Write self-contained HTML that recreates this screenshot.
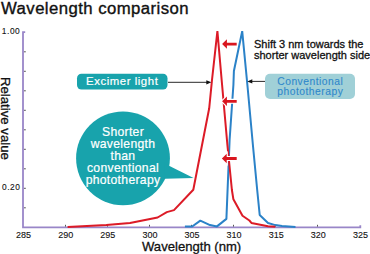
<!DOCTYPE html>
<html><head><meta charset="utf-8">
<style>
html,body{margin:0;padding:0;background:#fff;}
body{width:370px;height:254px;position:relative;overflow:hidden;font-family:"Liberation Sans",sans-serif;color:#111;}
.t{position:absolute;white-space:nowrap;line-height:1;-webkit-text-stroke-width:0.3px;}
svg{position:absolute;left:0;top:0;}
</style></head><body>
<svg width="370" height="254" viewBox="0 0 370 254">
  <!-- axes -->
  <g stroke="#9986c8" stroke-width="1.8" fill="none">
    <path d="M25.2 32.2 H23 V227.4 H360.3 V225.2"/>
  </g>
  <g stroke="#444" stroke-width="0.9">
    <path d="M24 207.8h1.8M24 188.3h1.8M24 168.8h1.8M24 149.3h1.8M24 129.8h1.8M24 110.3h1.8M24 90.8h1.8M24 71.3h1.8M24 51.8h1.8"/>
    <path d="M65.5 226.6v-1.8M107.5 226.6v-1.8M149.5 226.6v-1.8M191.5 226.6v-1.8M233.5 226.6v-1.8M275.5 226.6v-1.8M317.5 226.6v-1.8"/>
  </g>
  <!-- blue curve -->
  <polyline fill="none" stroke="#2b82c8" stroke-width="2" stroke-linejoin="bevel"
    points="184.9,226.5 192.2,226.5 200.3,220.6 210,225.1 217,226.4 226.4,218.9 229.6,140 233.4,85 233.9,71 242.2,31.2 247.4,85 252.9,145 257.2,190 259.7,215 268,223 275.3,225.1 282,226 295.5,226.9"/>
  <!-- red curve -->
  <polyline fill="none" stroke="#dc1b27" stroke-width="2" stroke-linejoin="bevel"
    points="67.6,226.9 106.3,225.1 130,223.1 157.6,217.5 166.8,212.1 174,210.1 193.3,189.8 209.2,108.3 212,80 217.4,31.2 222.1,85 227.4,145 231.9,190 233.4,199.3 242.5,215.7 249.4,220.5 251.4,222.9 268,226.2 275.3,226.8"/>
  <!-- red arrows -->
  <g fill="#d9161f" stroke="#fff" stroke-width="2.2" stroke-linejoin="miter" paint-order="stroke fill">
    <path d="M222.1 44.1 L226.9 39.35 L226.9 42.70 L236.7 42.70 L236.7 45.50 L226.9 45.50 L226.9 48.85 Z"/>
    <path d="M222.1 101.3 L226.9 96.55 L226.9 99.90 L236.7 99.90 L236.7 102.70 L226.9 102.70 L226.9 106.05 Z"/>
    <path d="M221.9 158.5 L226.7 153.75 L226.7 157.10 L236.7 157.10 L236.7 159.90 L226.7 159.90 L226.7 163.25 Z"/>
  </g>
  <!-- black arrows -->
  <g stroke="#111" stroke-width="0.9" fill="none">
    <path d="M168 82.3 H208"/>
    <path d="M265 81.4 H251"/>
  </g>
  <g fill="#111">
    <path d="M211.3 82.3 L206.3 80.2 L206.3 84.4 Z"/>
    <path d="M247.3 81.4 L252.3 79.3 L252.3 83.5 Z"/>
  </g>
  <!-- excimer box -->
  <rect x="77" y="73.7" width="90.5" height="15.8" rx="4.5" fill="#18a3ac"/>
  <!-- bubble -->
  <circle cx="123" cy="158.3" r="46.9" fill="#18a3ac"/>
  <path d="M164 163.5 L170 166.2 L193.6 178.1 L165 178.7 Z" fill="#18a3ac"/>
  <!-- conventional box -->
  <rect x="265" y="73.8" width="90" height="25.2" rx="5" fill="#a0d0d7"/>
</svg>
<div class="t" style="left:1px;top:1.2px;font-size:16px;letter-spacing:0.42px;-webkit-text-stroke:0.35px #111;transform:scaleX(1.045);transform-origin:0 0;">Wavelength comparison</div>
<div class="t" style="left:1.8px;top:27.3px;font-size:8.4px;letter-spacing:0.55px;-webkit-text-stroke-width:0.1px;">1.00</div>
<div class="t" style="left:2px;top:183.2px;font-size:8.4px;letter-spacing:0.55px;-webkit-text-stroke-width:0.1px;">0.20</div>
<div class="t" style="left:23.6px;top:230.7px;font-size:9px;-webkit-text-stroke-width:0.1px;transform:translateX(-50%);">285</div>
<div class="t" style="left:65.7px;top:230.7px;font-size:9px;-webkit-text-stroke-width:0.1px;transform:translateX(-50%);">290</div>
<div class="t" style="left:107.8px;top:230.7px;font-size:9px;-webkit-text-stroke-width:0.1px;transform:translateX(-50%);">295</div>
<div class="t" style="left:149.9px;top:230.7px;font-size:9px;-webkit-text-stroke-width:0.1px;transform:translateX(-50%);">300</div>
<div class="t" style="left:192.0px;top:230.7px;font-size:9px;-webkit-text-stroke-width:0.1px;transform:translateX(-50%);">305</div>
<div class="t" style="left:234.1px;top:230.7px;font-size:9px;-webkit-text-stroke-width:0.1px;transform:translateX(-50%);">310</div>
<div class="t" style="left:276.2px;top:230.7px;font-size:9px;-webkit-text-stroke-width:0.1px;transform:translateX(-50%);">315</div>
<div class="t" style="left:318.3px;top:230.7px;font-size:9px;-webkit-text-stroke-width:0.1px;transform:translateX(-50%);">320</div>
<div class="t" style="left:360.4px;top:230.7px;font-size:9px;-webkit-text-stroke-width:0.1px;transform:translateX(-50%);">325</div>
<div class="t" style="left:0;top:0;font-size:13.2px;transform-origin:0 0;transform:translate(12px,77px) rotate(90deg);">Relative value</div>
<div class="t" style="left:142px;top:240.3px;font-size:13.1px;">Wavelength (nm)</div>
<div class="t" style="left:254px;top:38.6px;font-size:11px;line-height:11px;">Shift 3 nm towards the<br>shorter wavelength side</div>
<div class="t" style="left:86px;top:75.9px;font-size:11.4px;letter-spacing:0.55px;-webkit-text-stroke:0.2px #fff;color:#fff;">Excimer light</div>
<div class="t" style="left:123px;top:127.3px;font-size:12.2px;letter-spacing:0.3px;-webkit-text-stroke:0.2px #fff;color:#fff;line-height:11.9px;text-align:center;transform:translateX(-50%);">Shorter<br>wavelength<br>than<br>conventional<br>phototherapy</div>
<div class="t" style="left:310.3px;top:76.5px;font-size:10.3px;letter-spacing:0.5px;-webkit-text-stroke:0.1px #2f88cc;color:#2f88cc;line-height:10.3px;text-align:center;transform:translateX(-50%);">Conventional<br>phototherapy</div>
</body></html>
